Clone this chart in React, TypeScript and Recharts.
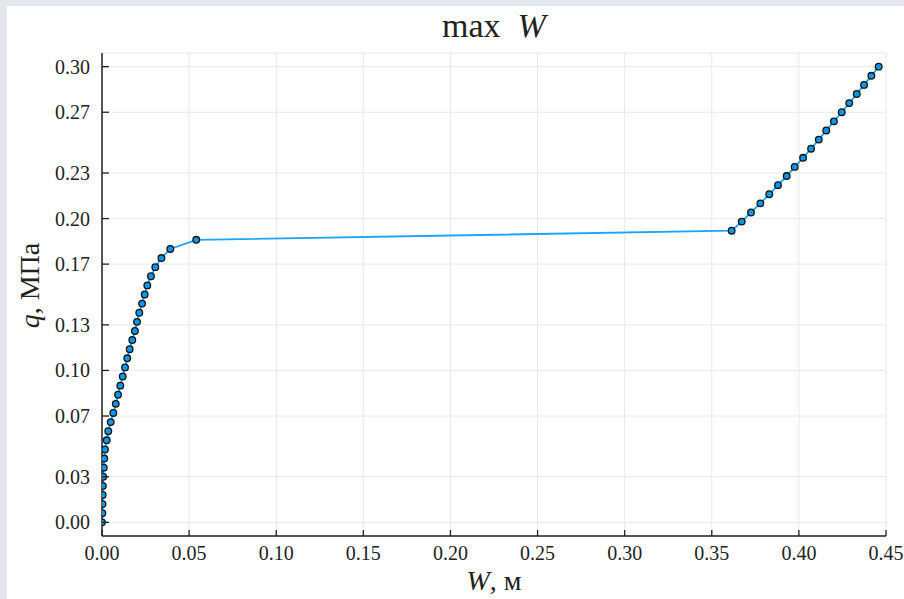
import { LineChart, Line, XAxis, YAxis, CartesianGrid } from "recharts";

// displacement W (m) for each load step q (MPa)
const qValues = [
  0, 0.006, 0.012, 0.018, 0.024, 0.03, 0.036, 0.042, 0.048, 0.054,
  0.06, 0.066, 0.072, 0.078, 0.084, 0.09, 0.096, 0.102, 0.108, 0.114,
  0.12, 0.126, 0.132, 0.138, 0.144, 0.15, 0.156, 0.162, 0.168, 0.174,
  0.18, 0.186, 0.192, 0.198, 0.204, 0.21, 0.216, 0.222, 0.228, 0.234,
  0.24, 0.246, 0.252, 0.258, 0.264, 0.27, 0.276, 0.282, 0.288, 0.294,
  0.3,
];

const wValues = [
  0.0, 0.0002, 0.0003, 0.0004, 0.0005, 0.0007, 0.001, 0.0013, 0.0017, 0.0027,
  0.0036, 0.005, 0.0065, 0.0079, 0.0092, 0.0105, 0.0119, 0.0132, 0.0145, 0.0159,
  0.0174, 0.0189, 0.0201, 0.0214, 0.023, 0.0245, 0.026, 0.0281, 0.0306, 0.0341,
  0.0392, 0.0541, 0.3614, 0.3672, 0.3725, 0.3779, 0.383, 0.388, 0.393, 0.3976,
  0.4024, 0.407, 0.4114, 0.4157, 0.4201, 0.4246, 0.4289, 0.4332, 0.4374, 0.4416,
  0.4458,
];

const xTicks = [0, 0.05, 0.1, 0.15, 0.2, 0.25, 0.3, 0.35, 0.4, 0.45];
const yTicks = [0, 0.03, 0.07, 0.1, 0.13, 0.17, 0.2, 0.23, 0.27, 0.3];

const data = qValues.map((q, i) => ({ W: wValues[i], q }));

const FONT = "'Liberation Serif', 'DejaVu Serif', serif";
const INK = "#222";

const YTick = ({ x, y, payload }: any) => (
  <g>
    <line x1={x + 12} x2={x + 19} y1={y} y2={y} stroke={INK} strokeWidth={1.3} />
    <text x={x} y={y} dy="0.35em" textAnchor="end" fontFamily={FONT} fontSize={20} fill={INK}>
      {payload.value.toFixed(2)}
    </text>
  </g>
);

const XTick = ({ x, y, payload }: any) => (
  <g>
    <line x1={x} x2={x} y1={y - 10} y2={y - 16} stroke={INK} strokeWidth={1.3} />
    <text x={x} y={y + 14} textAnchor="middle" fontFamily={FONT} fontSize={20} fill={INK}>
      {payload.value.toFixed(2)}
    </text>
  </g>
);

const XTitle = ({ viewBox }: any) => (
  <text
    x={viewBox.x + viewBox.width / 2}
    y={viewBox.y + 54}
    textAnchor="middle"
    fontFamily={FONT}
    fontSize={28}
    fill={INK}
  >
    <tspan fontStyle="italic">W</tspan>, м
  </text>
);

const YTitle = ({ viewBox }: any) => {
  const cx = 39;
  const cy = viewBox.y + viewBox.height / 2 - 9;
  return (
    <text
      x={cx}
      y={cy}
      transform={`rotate(-90 ${cx} ${cy})`}
      textAnchor="middle"
      fontFamily={FONT}
      fontSize={28}
      fill={INK}
    >
      <tspan fontStyle="italic">q</tspan>, МПа
    </text>
  );
};

export default function App() {
  return (
    <div style={{ position: "absolute", left: 0, top: 0, width: 904, height: 599, background: "#e3e7ec" }}>
      <div style={{ position: "absolute", left: 7, top: 6, width: 897, height: 593, background: "#fff" }} />
      <div
        style={{
          position: "absolute",
          left: 102,
          width: 784,
          top: 7,
          textAlign: "center",
          fontFamily: FONT,
          fontSize: 34,
          color: INK,
        }}
      >
        max&nbsp;&nbsp;<i>W</i>
      </div>
      <div style={{ position: "absolute", left: 0, top: 0 }}>
        <LineChart width={904} height={599} data={data} margin={{ top: 53, right: 18, bottom: 0, left: 0 }}>
          <CartesianGrid stroke="#e8e8e8" strokeWidth={1} />
          <XAxis
            dataKey="W"
            type="number"
            domain={[0, 0.45]}
            ticks={xTicks}
            height={63}
            tickSize={0}
            tickMargin={10}
            tick={<XTick />}
            tickLine={false}
            axisLine={{ stroke: INK, strokeWidth: 1.5 }}
            interval={0}
            allowDataOverflow
            label={<XTitle />}
          />
          <YAxis
            dataKey="q"
            type="number"
            domain={[-0.009, 0.309]}
            ticks={yTicks}
            width={102}
            tickSize={0}
            tickMargin={12}
            tick={<YTick />}
            tickLine={false}
            axisLine={{ stroke: INK, strokeWidth: 1.5 }}
            interval={0}
            allowDataOverflow
            label={<YTitle />}
          />
          <Line
            dataKey="q"
            type="linear"
            stroke="#1aa4fa"
            strokeWidth={1.8}
            dot={{ r: 3.3, fill: "#0a96ec", stroke: "#111", strokeWidth: 1.3 }}
            isAnimationActive={false}
          />
        </LineChart>
      </div>
    </div>
  );
}
